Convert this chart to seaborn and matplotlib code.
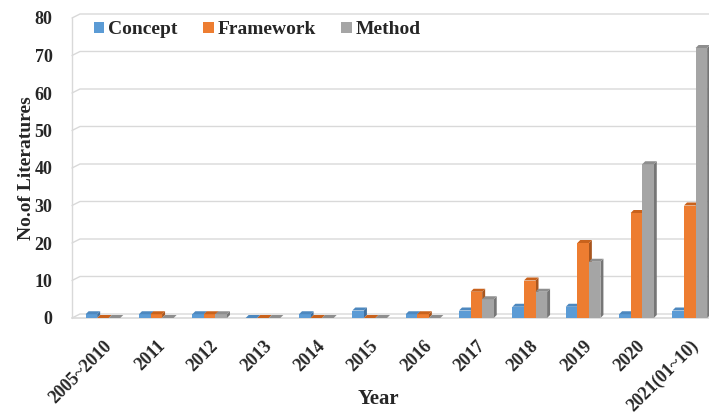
import numpy as np
import pandas as pd
import matplotlib
matplotlib.use("Agg")
import matplotlib.pyplot as plt
import seaborn as sns
from matplotlib.patches import Polygon, Patch

# Publication counts per period and study type
years = ["2005~2010", "2011", "2012", "2013", "2014", "2015", "2016",
         "2017", "2018", "2019", "2020", "2021(01~10)"]
concept = [1, 1, 1, 0, 1, 2, 1, 2, 3, 3, 1, 2]
framework = [0, 1, 1, 0, 0, 0, 1, 7, 10, 20, 28, 30]
method = [0, 0, 1, 0, 0, 0, 0, 5, 7, 15, 41, 72]
series = ["Concept", "Framework", "Method"]

front_colors = ["#5B9BD5", "#ED7D31", "#A5A5A5"]
side_colors = ["#3F6F9E", "#A8561F", "#767676"]
top_colors = ["#4D88BF", "#C9621C", "#8E8E8E"]

df = pd.DataFrame({
    "Year": years * 3,
    "Count": concept + framework + method,
    "Type": np.repeat(series, len(years)),
})

sns.set_theme(style="white")
plt.rcParams["font.family"] = ["Liberation Serif", "DejaVu Serif"]
plt.rcParams["font.weight"] = "bold"

fig = plt.figure(figsize=(7.09, 4.18), dpi=100)
ax = fig.add_axes([72 / 709, 100 / 418, 637 / 709, 300 / 418])

sns.barplot(data=df, x="Year", y="Count", hue="Type", palette=front_colors,
            width=0.65, saturation=1, errorbar=None, legend=False, ax=ax)

xmin, xmax = -0.58, 11.36
ymin, ymax = 0, 80
ax.set_xlim(xmin, xmax)
ax.set_ylim(ymin, ymax)

# Depth offsets for the pseudo-3D look (data units)
dx, dy = 0.056, 0.8
wall_dx, wall_dy = 0.15, 1.07

# Back-wall gridlines with a slanted corner at the left wall
grid_color = "#D9D9D9"
for v in range(0, 81, 10):
    ax.plot([xmin, xmin + wall_dx, xmax], [v, v + wall_dy, v + wall_dy],
            color=grid_color, lw=1.0, clip_on=False, zorder=0.5)
ax.plot([xmin, xmax], [0, 0], color=grid_color, lw=1.2, clip_on=False, zorder=0.5)
ax.plot([xmin, xmin], [0, 80], color=grid_color, lw=1.0, clip_on=False, zorder=0.5)

# Side and top faces on every bar
for k, cont in enumerate(ax.containers):
    z = 2 + 0.1 * k
    for bar in cont.patches:
        bar.set_zorder(z + 0.05)
        bar.set_edgecolor("none")
        x0 = bar.get_x()
        w = bar.get_width()
        h = bar.get_height()
        x1 = x0 + w
        side = Polygon([(x1, 0), (x1 + dx, dy), (x1 + dx, h + dy), (x1, h)],
                       closed=True, facecolor=side_colors[k], edgecolor="none",
                       zorder=z, clip_on=False)
        top = Polygon([(x0, h), (x0 + dx, h + dy), (x1 + dx, h + dy), (x1, h)],
                      closed=True, facecolor=top_colors[k], edgecolor="none",
                      zorder=z + 0.06, clip_on=False)
        ax.add_patch(side)
        ax.add_patch(top)

for s in ax.spines.values():
    s.set_visible(False)

ax.set_yticks(range(0, 81, 10))
ax.tick_params(axis="y", length=0, pad=14, labelsize=13)
ax.tick_params(axis="x", length=0, pad=14, labelsize=13)
for lab in ax.get_xticklabels():
    lab.set_rotation(45)
    lab.set_ha("right")
    lab.set_rotation_mode("anchor")
    lab.set_fontweight("bold")
for lab in ax.get_yticklabels():
    lab.set_fontweight("bold")

ax.set_ylabel("No.of Literatures", fontsize=14, fontweight="bold", labelpad=0)
ax.set_xlabel("Year", fontsize=15, fontweight="bold")
ax.xaxis.set_label_coords((378 - 72) / 637, -0.235)

handles = [Patch(facecolor=c, edgecolor="none") for c in front_colors]
fig.legend(handles, series, loc="center left",
           bbox_to_anchor=(86 / 709, 1 - 30 / 418), ncol=3, frameon=False,
           handlelength=0.55, handleheight=0.55, handletextpad=0.2,
           columnspacing=1.3, borderaxespad=0,
           prop=dict(family=["Liberation Serif"], weight="bold", size=14))

fig.savefig("out.png", dpi=100)
